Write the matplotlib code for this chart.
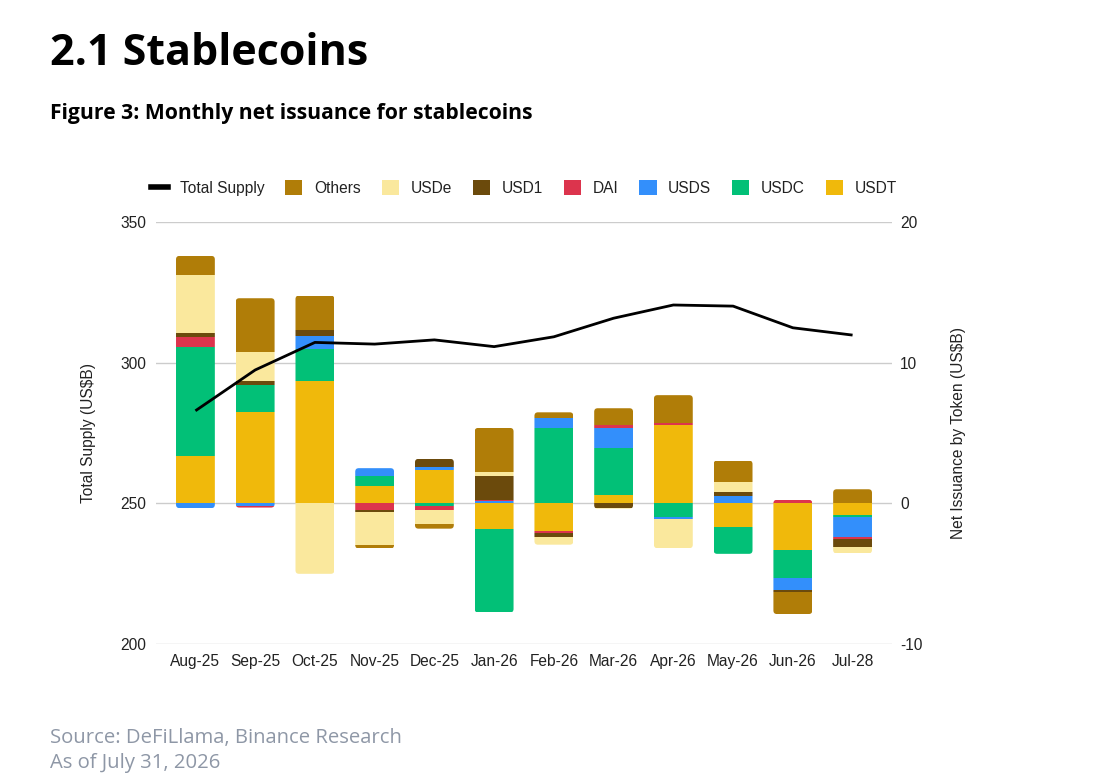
import matplotlib
matplotlib.use("Agg")
import matplotlib.pyplot as plt
import numpy as np
from matplotlib.lines import Line2D
from matplotlib.patches import Patch
from matplotlib.path import Path

# ---------------- data ----------------
months = ['Aug-25', 'Sep-25', 'Oct-25', 'Nov-25', 'Dec-25', 'Jan-26',
          'Feb-26', 'Mar-26', 'Apr-26', 'May-26', 'Jun-26', 'Jul-28']
total_supply = [282.9, 297.4, 307.2, 306.6, 308.1, 305.7,
                309.2, 315.8, 320.5, 320.1, 312.4, 309.8]
usdt = [3.38, 6.50, 8.71, 1.24, 2.40, -1.81, -1.95, 0.60, 5.54, -1.69, -3.30, -0.80]
usdc = [7.70, 1.92, 2.27, 0.69, -0.17, -5.95, 5.33, 3.36, -0.99, -1.90, -2.04, -0.19]
usds = [-0.34, -0.20, 0.92, 0.57, 0.21, 0.14, 0.73, 1.42, -0.11, 0.53, -0.80, -1.42]
dai = [0.74, -0.10, 0.0, -0.46, -0.30, 0.12, -0.14, 0.17, 0.14, 0.0, 0.25, -0.14]
usd1 = [0.28, 0.28, 0.43, -0.19, 0.55, 1.71, -0.33, -0.31, 0.0, 0.26, -0.14, -0.54]
usde = [4.12, 2.06, -5.01, -2.30, -1.00, 0.26, -0.52, -0.07, -2.09, 0.71, 0.0, -0.47]
others = [1.37, 3.82, 2.44, -0.26, -0.33, 3.13, 0.41, 1.21, 2.01, 1.54, -1.59, 1.00]

series_names = ['USDT', 'USDC', 'USDS', 'DAI', 'USD1', 'USDe', 'Others']
series_values = [usdt, usdc, usds, dai, usd1, usde, others]
series_colors = ['#F0B90B', '#02C077', '#338FFB', '#DC344D', '#6B4A0C', '#FAE89D', '#B07D08']

left_ticks = [200, 250, 300, 350]
right_ticks = [-10, 0, 10, 20]

# ---------------- figure ----------------
plt.rcParams['font.family'] = ['Liberation Sans', 'DejaVu Sans']
plt.rcParams['axes.unicode_minus'] = False
FS = 11.2
fig = plt.figure(figsize=(11, 7.8), dpi=100)
ax1 = fig.add_axes([156 / 1100, 1 - 644 / 780, 736 / 1100, 422 / 780])
ax2 = ax1.twinx()
ax1.set_zorder(ax2.get_zorder() + 1)
ax1.patch.set_visible(False)

x = np.arange(len(months))
width = 0.65
pos_bottom = np.zeros(len(months))
neg_bottom = np.zeros(len(months))
bar_groups = []
for name, vals, col in zip(series_names, series_values, series_colors):
    v = np.array(vals, dtype=float)
    bottoms = np.where(v >= 0, pos_bottom, neg_bottom)
    bars = ax2.bar(x, v, width=width, bottom=bottoms, color=col, linewidth=0, label=name, zorder=2)
    bar_groups.append(bars)
    pos_bottom = pos_bottom + np.where(v > 0, v, 0)
    neg_bottom = neg_bottom + np.where(v < 0, v, 0)

# rounded outer ends of each stacked column (clip paths)
ylo, yhi = -10, 20
xlo, xhi = -0.66, 11.66
ax2.set_ylim(ylo, yhi)
ax2.set_xlim(xlo, xhi)
ax1.set_xlim(xlo, xhi)
px_x = 736 / (xhi - xlo)
px_y = 422 / (yhi - ylo)
r_px = 3.5


def rounded_column(xc, top, bottom):
    x0, x1 = xc - width / 2, xc + width / 2
    rx = r_px / px_x
    ry = r_px / px_y
    verts = [(x0, bottom + ry), (x0, top - ry), (x0, top), (x0 + rx, top),
             (x1 - rx, top), (x1, top), (x1, top - ry),
             (x1, bottom + ry), (x1, bottom), (x1 - rx, bottom),
             (x0 + rx, bottom), (x0, bottom), (x0, bottom + ry), (x0, bottom + ry)]
    codes = [Path.MOVETO, Path.LINETO, Path.CURVE3, Path.CURVE3,
             Path.LINETO, Path.CURVE3, Path.CURVE3,
             Path.LINETO, Path.CURVE3, Path.CURVE3,
             Path.LINETO, Path.CURVE3, Path.CURVE3, Path.CLOSEPOLY]
    return Path(verts, codes)


for i in range(len(months)):
    path = rounded_column(x[i], pos_bottom[i], neg_bottom[i])
    for bars in bar_groups:
        bars[i].set_clip_path(path, ax2.transData)

ax1.plot(x, total_supply, color='black', lw=2.0, zorder=5, solid_capstyle='butt')

ax1.set_ylim(200, 350)
ax1.set_yticks(left_ticks)
ax2.set_yticks(right_ticks)
ax2.yaxis.grid(True, color='#CCCCCC', lw=1.0)
ax2.set_axisbelow(True)
ax1.set_xticks(x)
ax1.set_xticklabels(months)

for a in (ax1, ax2):
    for s in a.spines.values():
        s.set_visible(False)
    a.tick_params(length=0, labelsize=FS, colors='#222222')
ax1.tick_params(axis='y', pad=7)
ax2.tick_params(axis='y', pad=6)
ax1.tick_params(axis='x', pad=7)

ax1.set_ylabel('Total Supply (US$B)', fontsize=FS, color='#222222', va='center')
ax1.yaxis.set_label_coords((88 - 156) / 736, 0.5)
ax2.set_ylabel('Net Issuance by Token (US$B)', fontsize=FS, color='#222222', va='center', rotation=90)
ax2.yaxis.set_label_coords((958 - 156) / 736, 0.5)

# legend
handles = [Line2D([0], [0], color='black', lw=4)]
labels = ['Total Supply']
for name, col in zip(series_names[::-1], series_colors[::-1]):
    handles.append(Patch(facecolor=col, edgecolor='none'))
    labels.append(name)
fig.legend(handles, labels, loc='center', bbox_to_anchor=(524 / 1100, 1 - 188 / 780),
           ncol=8, frameon=False, fontsize=FS, handlelength=1.1, handleheight=1.1,
           handletextpad=0.75, columnspacing=1.35, labelcolor='#222222')

# titles and notes
fig.text(50 / 1100, 1 - 65 / 780, '2.1 Stablecoins', fontsize=31, fontweight='bold',
         family=['Open Sans', 'DejaVu Sans'], color='black', va='baseline', ha='left')
fig.text(50 / 1100, 1 - 119 / 780, 'Figure 3: Monthly net issuance for stablecoins', fontsize=15.2,
         fontweight='bold', family=['Open Sans', 'DejaVu Sans'], color='black', va='baseline', ha='left')
fig.text(50 / 1100, 1 - 743 / 780, 'Source: DeFiLlama, Binance Research', fontsize=14.6,
         family=['Open Sans', 'DejaVu Sans'], color='#8E97A6', va='baseline', ha='left')
fig.text(50 / 1100, 1 - 768 / 780, 'As of July 31, 2026', fontsize=14.6,
         family=['Open Sans', 'DejaVu Sans'], color='#8E97A6', va='baseline', ha='left')

fig.savefig('out.png', dpi=100, facecolor='white')
